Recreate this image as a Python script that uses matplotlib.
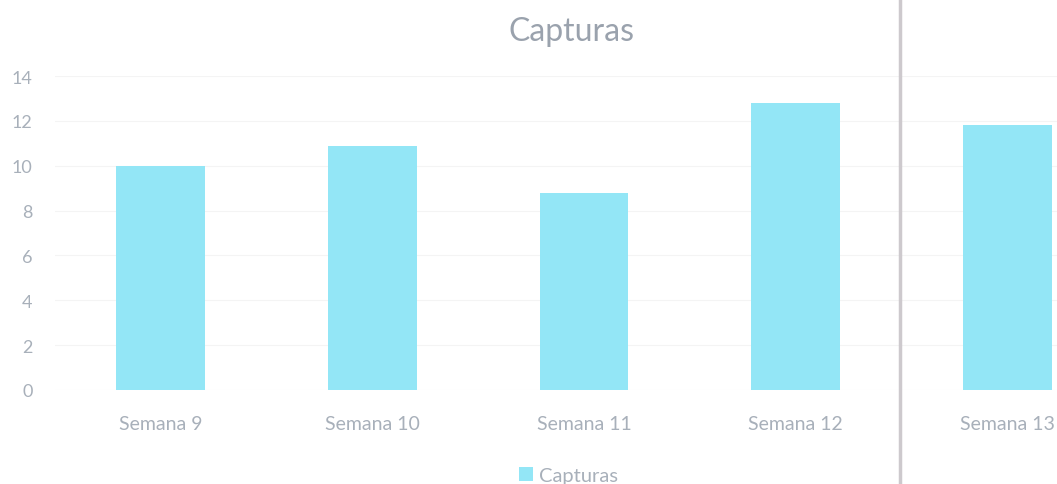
import matplotlib.pyplot as plt
import matplotlib.lines as mlines
import numpy as np

plt.rcParams['font.family'] = ['Lato', 'DejaVu Sans']

semanas = ['Semana 9', 'Semana 10', 'Semana 11', 'Semana 12', 'Semana 13']
capturas = [10.0, 10.9, 8.8, 12.8, 11.8]
yticks = [0, 2, 4, 6, 8, 10, 12, 14]

TXT = '#a8b0ba'
BAR = '#93e6f6'

fig = plt.figure(figsize=(10.57, 4.85), dpi=100)
ax = fig.add_axes([0.052, 0.194, 1.001, 0.647])

x = np.arange(len(semanas))
ax.bar(x, capturas, width=0.42, color=BAR, label='Capturas', zorder=2)
ax.set_xlim(-0.5, len(semanas) - 0.5)
ax.set_ylim(0, 14)
ax.set_yticks(yticks)
ax.set_xticks(x)
ax.set_xticklabels(semanas)
ax.tick_params(axis='both', length=0, colors=TXT)
ax.tick_params(axis='x', pad=18, labelsize=14)
ax.tick_params(axis='y', pad=16, labelsize=13)
ax.grid(axis='y', color='#f4f4f4', linewidth=0.8, zorder=0)
for s in ax.spines.values():
    s.set_visible(False)

fig.text(0.541, 0.935, 'Capturas', ha='center', va='center', fontsize=23, color='#9aa2ad')

leg = fig.legend(loc='center', bbox_to_anchor=(0.538, 0.018), frameon=False,
                 fontsize=14.5, handlelength=0.7, handleheight=0.7, handletextpad=0.3)
for t in leg.get_texts():
    t.set_color(TXT)

# page fold line in the scan
fig.add_artist(mlines.Line2D([0.851, 0.851], [0, 1], transform=fig.transFigure,
                             color='#cdc9cd', linewidth=2.5))

fig.savefig('out.png', dpi=100, facecolor='white')
